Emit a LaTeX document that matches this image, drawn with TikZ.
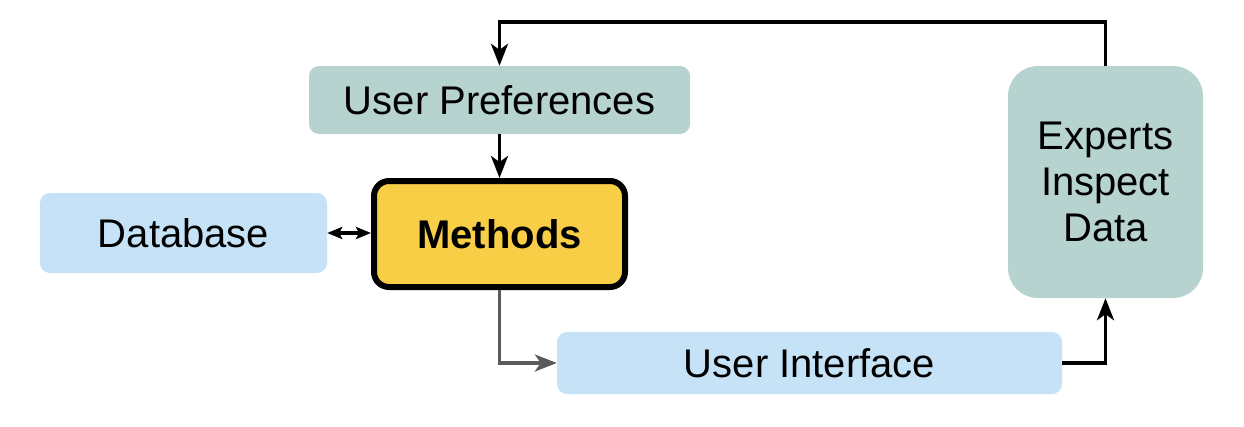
\documentclass[tikz,border=0pt]{standalone}
\usepackage{tikz}
\usepackage{xcolor}
\usepackage{fontspec}
\setmainfont{Liberation Sans}
\usetikzlibrary{arrows.meta,positioning,calc}
\definecolor{tealbox}{HTML}{B7D3CF}
\definecolor{bluebox}{HTML}{C5E2F7}
\definecolor{yellowbox}{HTML}{F7CE46}
\definecolor{greyline}{HTML}{5A5A5A}
\begin{document}
\begin{tikzpicture}
    [x=1pt,y=-1pt,inner sep=0pt,
     font=\fontsize{40}{46}\selectfont,
     info/.style={rectangle,draw=none,fill=tealbox,rounded corners=10pt},
     store/.style={rectangle,draw=none,fill=bluebox,rounded corners=10pt},
     core/.style={rectangle,draw=black,line width=6pt,fill=yellowbox,rounded corners=15pt},
     link/.style={line width=3.5pt,-{Stealth[length=22pt,width=17pt,inset=6pt]}}]
    \useasboundingbox (0,0) rectangle (1244,426);
    \node (P) at (499.5,100) [info,minimum width=381pt,minimum height=68pt] {User Preferences};
    \node (M) at (499.5,234) [core,minimum width=251pt,minimum height=106pt] {\bfseries Methods};
    \node (D) at (183.5,233) [store,minimum width=287pt,minimum height=80pt] {Database};
    \node (U) at (809.5,363) [store,minimum width=505pt,minimum height=62pt] {User Interface};
    \node (E) at (1105.5,182) [info,rounded corners=30pt,minimum width=195pt,minimum height=232pt,
      align=center] {Experts\\Inspect\\Data};
    \coordinate (T) at (0,22);
    \draw [link] (E.north) -- (E.north |- T) -| (P.north);
    \draw [link] (P.south) -- (M.north);
    \draw [line width=3.5pt,{Stealth[length=15pt,width=12pt,inset=3pt]}-{Stealth[length=15pt,width=12pt,inset=3pt]}]
      (D.east) -- (D.east -| M.west);
    \draw [link,draw=greyline,color=greyline] (M.south) |- (U.west);
    \draw [link] (U.east) -| (E.south);
    \end{tikzpicture}
\end{document}
